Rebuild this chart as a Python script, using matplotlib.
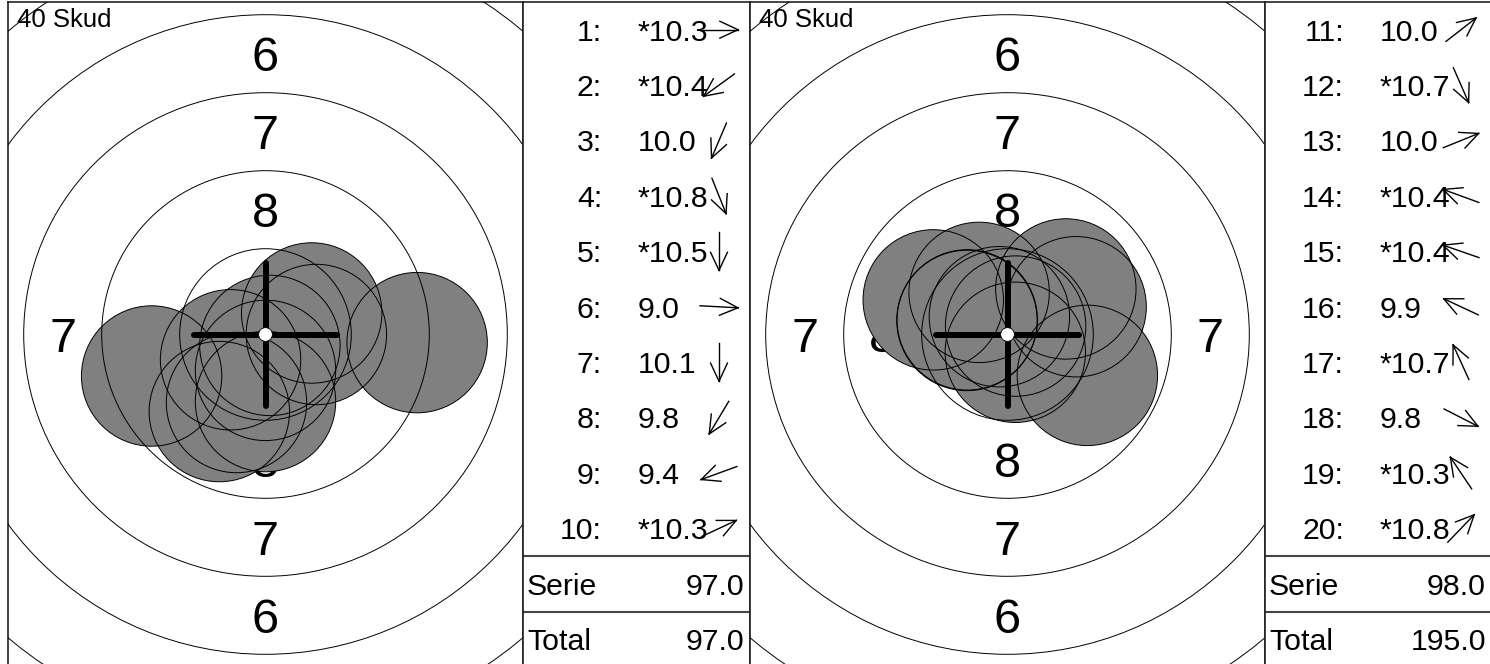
import math

import matplotlib
matplotlib.use("Agg")
import matplotlib.pyplot as plt
from matplotlib.patches import Circle
from matplotlib.transforms import offset_copy

plt.rcParams["font.family"] = ["Liberation Sans", "DejaVu Sans"]

# shot positions in mm from target centre (x right, y up)
series_1_x = [1.63, -1.12, -0.93, 0.14, 0.00, 4.86, 0.00, -1.48, -3.65, 1.48]
series_1_y = [0.00, -0.81, -2.18, -0.35, -1.15, -0.26, -2.15, -2.47, -1.33, 0.69]
series_1_scores = [10.3, 10.4, 10.0, 10.8, 10.5, 9.0, 10.1, 9.8, 9.4, 10.3]
series_1_inner = [True, True, False, True, True, False, False, False, False, True]

series_2_x = [1.87, 0.25, 2.20, -1.29, -1.30, -2.38, -0.26, 2.56, -0.91, 0.26]
series_2_y = [1.46, -0.57, 0.89, 0.47, 0.45, 1.11, 0.57, -1.31, 1.35, 0.27]
series_2_scores = [10.0, 10.7, 10.0, 10.4, 10.4, 9.9, 10.7, 9.8, 10.3, 10.8]
series_2_inner = [False, True, False, True, True, False, True, False, True, True]

ring_numbers = [9, 8, 7, 6, 5]
label_rings = [8, 7, 6]
shot_count_label = "40 Skud"

# layout (pixels)
W, H = 1490, 664
MM = 31.2            # px per mm
PANEL_W = 742
TARGET_W = 515
SCORE_W = 227
TOP = 2
BOX_H = 665
ROW_H = BOX_H / 12
PELLET_R = 2.25      # mm
LIST_FS = 21.8
RING_FS = 35


def ring_radius(k):
    return 0.25 + 2.5 * (10 - k)


def px_axes(fig, x0, y0, w, h):
    return fig.add_axes([x0 / W, 1 - (y0 + h) / H, w / W, h / H])


def style_frame(ax):
    ax.set_xticks([])
    ax.set_yticks([])
    for s in ax.spines.values():
        s.set_linewidth(1.2)
        s.set_color("#222222")


def draw_target(ax, xs, ys):
    hw = TARGET_W / 2 / MM
    hh = BOX_H / 2 / MM
    ax.set_xlim(-hw, hw)
    ax.set_ylim(-hh, hh)
    style_frame(ax)

    # ring numbers, underneath the shots (skip the ones that fall outside the box)
    tr = offset_copy(ax.transData, fig=ax.figure, y=-0.358 * RING_FS, units="points")
    for k in label_rings:
        r = (ring_radius(k) + ring_radius(k + 1)) / 2
        for px, py in [(0, r), (0, -r), (r, 0), (-r, 0)]:
            if abs(px) > hw or abs(py) > hh:
                continue
            ax.text(px, py, str(k), fontsize=RING_FS, ha="center", va="baseline",
                    transform=tr, clip_on=True, zorder=1)

    for x, y in zip(xs, ys):
        ax.add_patch(Circle((x, y), PELLET_R, fc="#808080", ec="none", zorder=2))
    for x, y in zip(xs, ys):
        ax.add_patch(Circle((x, y), PELLET_R, fill=False, ec="black", lw=0.7, zorder=3))

    for k in ring_numbers:
        ax.add_patch(Circle((0, 0), ring_radius(k), fill=False, ec="black", lw=0.7, zorder=4))

    arm = 2.3
    ax.plot([-arm, arm], [0, 0], color="black", lw=4.3, solid_capstyle="round", zorder=5)
    ax.plot([0, 0], [-arm, arm], color="black", lw=4.3, solid_capstyle="round", zorder=5)
    ax.add_patch(Circle((0, 0), 0.22, fc="white", ec="black", lw=0.6, zorder=6))

    ax.text(-hw + 9 / MM, hh - 24.7 / MM, shot_count_label, fontsize=18.5,
            ha="left", va="baseline", zorder=7)


def draw_arrow(ax, cx, cy, dx, dy, length=38, head=20, half_angle=25):
    d = math.hypot(dx, dy)
    ux, uy = dx / d, -dy / d   # pixel axes have y pointing down
    tx, ty = cx - ux * length / 2, cy - uy * length / 2
    hx, hy = cx + ux * length / 2, cy + uy * length / 2
    ax.plot([tx, hx], [ty, hy], color="black", lw=1.0)
    base = math.atan2(-uy, -ux)
    for s in (-1, 1):
        a = base + s * math.radians(half_angle)
        ax.plot([hx, hx + head * math.cos(a)], [hy, hy + head * math.sin(a)],
                color="black", lw=1.0)


def draw_scores(ax, first_no, xs, ys, scores, inner, serie, total):
    ax.set_xlim(0, SCORE_W)
    ax.set_ylim(BOX_H, 0)
    style_frame(ax)
    digit_half = 0.358 * LIST_FS * 100 / 72
    for i, (x, y, s, star) in enumerate(zip(xs, ys, scores, inner)):
        yc = ROW_H * (i + 0.5)
        ax.text(79, yc + digit_half, f"{first_no + i}:", fontsize=LIST_FS,
                ha="right", va="baseline")
        ax.text(115, yc + digit_half, ("*" if star else "") + f"{s:.1f}",
                fontsize=LIST_FS, ha="left", va="baseline")
        draw_arrow(ax, 196, yc, x, y)

    for k in (10, 11):
        ax.plot([0, SCORE_W], [ROW_H * k, ROW_H * k], color="#444444", lw=1.5)
    for k, name, val in [(10, "Serie", serie), (11, "Total", total)]:
        yc = ROW_H * (k + 0.5)
        ax.text(4, yc + digit_half, name, fontsize=LIST_FS, ha="left", va="baseline")
        ax.text(221, yc + digit_half, f"{val:.1f}", fontsize=LIST_FS,
                ha="right", va="baseline")


fig = plt.figure(figsize=(W / 100, H / 100), dpi=100)

series = [
    (series_1_x, series_1_y, series_1_scores, series_1_inner),
    (series_2_x, series_2_y, series_2_scores, series_2_inner),
]
running = 0.0
for p, (xs, ys, scores, inner) in enumerate(series):
    x0 = 8 + PANEL_W * p
    serie = float(sum(math.floor(s) for s in scores))
    running += serie
    tax = px_axes(fig, x0, TOP, TARGET_W, BOX_H)
    draw_target(tax, xs, ys)
    sax = px_axes(fig, x0 + TARGET_W, TOP, SCORE_W, BOX_H)
    draw_scores(sax, 1 + 10 * p, xs, ys, scores, inner, serie, running)

fig.savefig("out.png", dpi=100)
